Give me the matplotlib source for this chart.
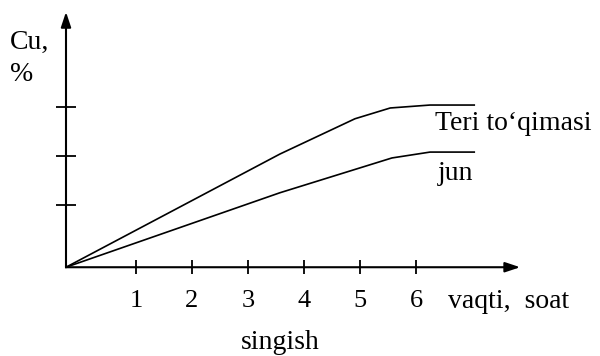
import matplotlib.pyplot as plt

# time (hours) and Cu content (tick units)
x_origin = -0.25
y_origin = -0.27
teri_x = [x_origin, 3.57, 4.91, 5.54, 6.25, 7.04]
teri_y = [y_origin, 2.04, 2.76, 2.98, 3.04, 3.04]
jun_x = [x_origin, 3.57, 5.57, 6.25, 7.04]
jun_y = [y_origin, 1.25, 1.96, 2.08, 2.08]
x_ticks = [1, 2, 3, 4, 5, 6]
x_tick_labels = ['1', '2', '3', '4', '5', '6']
y_ticks = [1, 2, 3]

plt.rcParams['font.family'] = ['Liberation Serif', 'DejaVu Serif']

fig = plt.figure(figsize=(6, 3.56), dpi=100)
ax = fig.add_axes([0, 0, 1, 1])
ax.set_xlim(-80/56, 520/56)
ax.set_ylim(1 - 151/49, 1 + 205/49)

#curves
ax.plot(teri_x, teri_y, color='black', lw=1.2, solid_joinstyle='round')
ax.plot(jun_x, jun_y, color='black', lw=1.2, solid_joinstyle='round')

#axes with arrows, ticks stay on the hidden spines
for side in ['top', 'right', 'left', 'bottom']:
    ax.spines[side].set_visible(False)
ax.spines['left'].set_position(('data', x_origin))
ax.spines['bottom'].set_position(('data', y_origin))
arrow = dict(arrowstyle='-|>,head_length=0.45,head_width=0.15', lw=1.5,
             color='black', shrinkA=0, shrinkB=0, mutation_scale=20)
ax.annotate('', xy=(7.86, y_origin), xytext=(x_origin, y_origin), arrowprops=arrow)
ax.annotate('', xy=(x_origin, 4.94), xytext=(x_origin, y_origin), arrowprops=arrow)

ax.set_xticks(x_ticks)
ax.set_xticklabels(x_tick_labels)
ax.set_yticks(y_ticks)
ax.set_yticklabels([])
ax.tick_params(axis='x', direction='inout', length=9.5, width=1.3, pad=12, labelsize=19)
ax.tick_params(axis='y', direction='inout', length=14.5, width=1.3)

#texts
ax.text(-1.25, 4.57, 'Cu,', fontsize=20, va='top', ha='left')
ax.text(-1.25, 3.92, '%', fontsize=20, va='top', ha='left')
ax.text(6.34, 2.53, 'Teri to\u2018qimasi', fontsize=20, va='baseline')
ax.text(6.39, 1.51, 'jun', fontsize=20, va='baseline')
ax.text(6.57, -1.1, 'vaqti,  soat', fontsize=20, va='baseline')
ax.text(3.57, -1.94, 'singish', fontsize=20, va='baseline', ha='center')

fig.savefig('out.png', dpi=100)
